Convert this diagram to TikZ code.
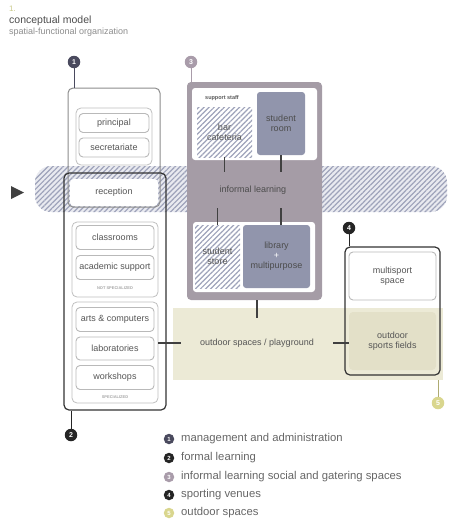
\documentclass[tikz,border=0pt]{standalone}
\usepackage{fontspec}
\setmainfont{Liberation Sans}
\usetikzlibrary{patterns.meta}
\definecolor{txt}{HTML}{555555}
\definecolor{hatch}{HTML}{9EA3BA}
\definecolor{bandbg}{HTML}{E9EAF0}
\definecolor{frame3}{HTML}{A59CA6}
\definecolor{solid3}{HTML}{9195AC}
\definecolor{pale}{HTML}{ECEAD6}
\definecolor{paledk}{HTML}{E3E0C8}
\definecolor{cone}{HTML}{4A4A5E}
\definecolor{ctwo}{HTML}{252525}
\definecolor{cthree}{HTML}{A99CAA}
\definecolor{cfour}{HTML}{252525}
\definecolor{cfive}{HTML}{D9D68E}
\definecolor{titlegreen}{HTML}{C9C98A}
\tikzset{
  room/.style={draw=gray!55, line width=0.9pt, rounded corners=4pt, fill=white, text=txt, align=center, inner sep=0pt},
  grp/.style={draw=gray!50, line width=0.8pt, rounded corners=5pt, inner sep=0pt},
  hatched/.style={preaction={fill=white}, pattern={Lines[angle=45,distance=3.6pt,line width=1.2pt]}, pattern color=hatch, text=txt, align=center, inner sep=0pt},
  solidroom/.style={fill=solid3, rounded corners=3pt, text=txt!90!black, align=center, inner sep=0pt},
  num/.style={circle, inner sep=0pt, minimum size=12.5pt, text=white, font=\fontsize{7}{7}\selectfont\bfseries},
  lnum/.style={circle, inner sep=0pt, minimum size=10.5pt, text=white, font=\fontsize{6}{6}\selectfont\bfseries},
  conn/.style={line width=1.1pt, draw=black!75},
  tiny/.style={font=\fontsize{4}{4}\selectfont\bfseries, text=gray!70},
  legend/.style={anchor=west, text=black!60, font=\fontsize{11.3}{12}\selectfont, inner sep=0pt},
}
\begin{document}
\begin{tikzpicture}[x=1pt,y=-1pt, font=\fontsize{9}{10}\selectfont]
\useasboundingbox (0,0) rectangle (450,525);
% title
\node[anchor=west, text=titlegreen, font=\fontsize{8}{8}\selectfont, inner sep=0pt] (t0) at (9,9) {1.};
\node[anchor=west, text=black!70, font=\fontsize{10.5}{11}\selectfont, inner sep=0pt] (t1) at (9,21) {conceptual model};
\node[anchor=west, text=black!45, font=\fontsize{9}{10}\selectfont, inner sep=0pt] (t2) at (9,32.5) {spatial-functional organization};

% hatched band
\node[preaction={fill=bandbg}, pattern={Lines[angle=45,distance=3.6pt,line width=1.2pt]}, pattern color=hatch, rounded corners=16pt, minimum width=412pt, minimum height=46pt, inner sep=0pt] (band) at (241,189) {};
\fill[black!75] (11,186) -- (24,192.5) -- (11,199) -- cycle;

% outdoor band
\node[fill=pale, minimum width=270pt, minimum height=72pt, inner sep=0pt] (outband) at (308,344) {};

% box 3
\node[fill=frame3, rounded corners=4pt, minimum width=135pt, minimum height=218pt, inner sep=0pt] (b3) at (254.5,191) {};
\node[fill=white, rounded corners=3pt, minimum width=125pt, minimum height=72pt, inner sep=0pt] (w3a) at (254.5,124) {};
\node[fill=white, rounded corners=3pt, minimum width=122pt, minimum height=70pt, inner sep=0pt] (w3b) at (254,257) {};
\node[font=\fontsize{5.5}{6}\selectfont\bfseries, text=black!65, inner sep=0pt] (staff) at (222,98) {support staff};
\node[hatched, minimum width=55pt, minimum height=50pt] (bar) at (224.5,132) {bar\\cafeteria};
\node[solidroom, minimum width=48pt, minimum height=63pt] (sroom) at (281,123.5) {student\\room};
\node[text=black!70, minimum height=36pt, minimum width=100pt, inner sep=0pt] (il) at (253,190) {informal learning};
\node[hatched, minimum width=45pt, minimum height=63pt] (store) at (217.5,256.5) {student\\store};
\node[solidroom, minimum width=67pt, minimum height=63pt] (lib) at (276.5,256.5) {library\\\textcolor{white}{+}\\multipurpose};
\draw[conn] (bar.south) -- (bar.south |- il.north);
\draw[conn] (sroom.south) -- (sroom.south |- il.north);
\draw[conn] (store.north) -- (store.north |- il.south);
\draw[conn] (lib.north -| sroom.south) -- (sroom.south |- il.south);

% boxes 1 and 2
\node[fill=white, rounded corners=4pt, minimum width=88pt, minimum height=27pt, inner sep=0pt] (recbg) at (114,192.5) {};
\node[draw=black!45, line width=1pt, rounded corners=5pt, minimum width=92pt, minimum height=119pt, inner sep=0pt] (b1) at (114,147.5) {};
\node[draw=black!80, line width=1.2pt, rounded corners=5pt, minimum width=102pt, minimum height=237pt, inner sep=0pt] (b2) at (115,291.5) {};
\node[text=txt, inner sep=0pt] (rec) at (114,192.5) {reception};

\node[grp, minimum width=76pt, minimum height=57pt] (g1) at (114,136.5) {};
\node[room, minimum width=70pt, minimum height=19pt] (principal) at (114,123) {principal};
\node[room, minimum width=70pt, minimum height=19pt] (secr) at (114,147.5) {secretariate};

\node[grp, minimum width=86pt, minimum height=75pt] (gns) at (115,259.5) {};
\node[room, minimum width=78pt, minimum height=24pt] (class) at (115,237.5) {classrooms};
\node[room, minimum width=78pt, minimum height=24pt] (acad) at (115,267.5) {academic support};
\node[tiny] (nsl) at (115,288.5) {NOT SPECIALIZED};

\node[grp, minimum width=86pt, minimum height=101pt] (gs) at (115,352.5) {};
\node[room, minimum width=78pt, minimum height=24pt] (arts) at (115,319.5) {arts \& computers};
\node[room, minimum width=78pt, minimum height=23pt] (labs) at (115,348.5) {laboratories};
\node[room, minimum width=78pt, minimum height=24pt] (work) at (115,377.5) {workshops};
\node[tiny] (sl) at (115,397.5) {SPECIALIZED};

% outdoor
\node[text=txt, minimum width=152pt, minimum height=50pt, inner sep=0pt] (play) at (257,343) {outdoor spaces / playground};
\draw[conn] (b3.south -| play.north) -- (play.north);
\draw[conn] (play.west) -- (play.west -| gs.east);

% box 4
\node[draw=black!80, line width=1.2pt, rounded corners=5pt, minimum width=95pt, minimum height=128pt, inner sep=0pt] (b4) at (392.5,311) {};
\node[room, minimum width=87pt, minimum height=48pt] (multi) at (392.5,276) {multisport\\space};
\node[fill=paledk, rounded corners=4pt, minimum width=87pt, minimum height=58pt, text=txt, align=center, inner sep=0pt] (fields) at (392.5,341) {outdoor\\sports fields};
\draw[conn] (play.east) -- (play.east -| fields.west);

% numbered circles
\node[num, fill=cone] (n1) at (74,62) {1};
\draw[line width=1pt, draw=cone] (n1) -- (n1 |- b1.north);
\node[num, fill=cthree] (n3) at (191,62) {3};
\draw[line width=1pt, draw=cthree] (n3) -- (n3 |- b3.north);
\node[num, fill=ctwo] (n2) at (71,435) {2};
\draw[line width=1pt, draw=ctwo] (n2) -- (n2 |- b2.south);
\node[num, fill=cfour] (n4) at (349,228) {4};
\draw[line width=1pt, draw=cfour] (n4) -- (n4 |- b4.north);
\node[num, fill=cfive] (n5) at (438,403) {5};
\draw[line width=0.8pt, draw=cfive!80!black] (n5) -- (n5 |- outband.south);

% legend
\node[lnum, fill=cone] (l1) at (169,439) {1};
\node[legend] (lt1) at (181,439) {management and administration};
\node[lnum, fill=ctwo] (l2) at (169,458) {2};
\node[legend] (lt2) at (181,458) {formal learning};
\node[lnum, fill=cthree] (l3) at (169,477) {3};
\node[legend] (lt3) at (181,477) {informal learning social and gatering spaces};
\node[lnum, fill=cfour] (l4) at (169,495) {4};
\node[legend] (lt4) at (181,495) {sporting venues};
\node[lnum, fill=cfive] (l5) at (169,513) {5};
\node[legend] (lt5) at (181,513) {outdoor spaces};
\end{tikzpicture}
\end{document}
